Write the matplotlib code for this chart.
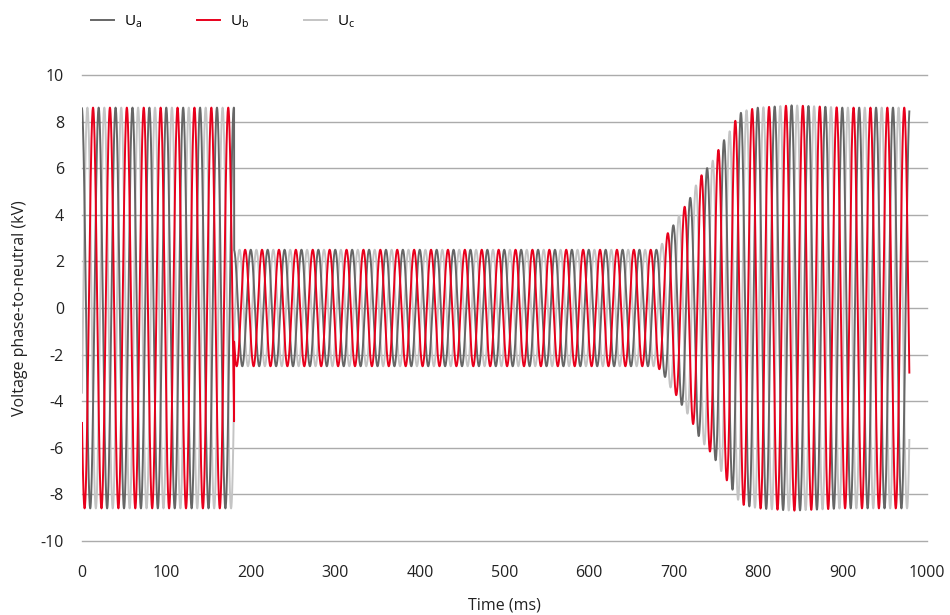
import numpy as np
import matplotlib
matplotlib.use("Agg")
import matplotlib.pyplot as plt

# ---- data ----
freq_hz = 50.0                 # 20 ms period
phase_deg = 5.0                # Ua phase at t = 0
t_start, t_end = 0.0, 979.1    # ms
# amplitude envelope (kV) of the three phases
env_time = [0, 180.0, 180.001, 680, 688, 695, 701, 708, 715, 721, 728, 734,
            741, 748, 754, 761, 768, 775, 781, 788, 800, 841, 900, 979.1]
env_amp = [8.6, 8.6, 2.5, 2.5, 2.82, 3.35, 3.6, 4.06, 4.45, 4.8, 5.39, 5.75,
           6.06, 6.4, 6.85, 7.28, 7.67, 8.17, 8.43, 8.5, 8.6, 8.7, 8.6, 8.6]
phase_shift = {"Ua": 0.0, "Ub": 120.0, "Uc": -120.0}
series = ["Ua", "Ub", "Uc"]
labels = ["U$_{a}$", "U$_{b}$", "U$_{c}$"]
colors = {"Ua": "#666666", "Ub": "#e8001c", "Uc": "#c4c4c4"}

x_ticks = list(range(0, 1001, 100))
y_ticks = list(range(-10, 11, 2))

plt.rcParams["font.family"] = ["Open Sans", "DejaVu Sans"]
plt.rcParams["mathtext.default"] = "regular"
plt.rcParams["axes.unicode_minus"] = False

t = np.linspace(t_start, t_end, 20000)
amp = np.interp(t, env_time, env_amp)
omega = 2 * np.pi * freq_hz / 1000.0

fig = plt.figure(figsize=(9.5, 6.15), dpi=100)
ax = fig.add_axes([82 / 950, 1 - 541 / 615, (927 - 82) / 950, (541 - 75) / 615])

z = {"Uc": 2, "Ua": 3, "Ub": 4}
handles = []
for s, lab in zip(series, labels):
    y = amp * np.cos(omega * t + np.deg2rad(phase_deg + phase_shift[s]))
    h, = ax.plot(t, y, color=colors[s], lw=1.4, zorder=z[s], label=lab)
    handles.append(h)

ax.set_xlim(0, 1000)
ax.set_ylim(-10, 10)
ax.set_xticks(x_ticks)
ax.set_yticks(y_ticks)
ax.yaxis.grid(True, color="#ababab", lw=1.0)
for gl in ax.get_ygridlines():
    gl.set_clip_on(False)
ax.set_axisbelow(True)
for sp in ax.spines.values():
    sp.set_visible(False)
ax.tick_params(axis="both", length=0, labelsize=11.5, colors="#222222")
ax.tick_params(axis="y", pad=13)
ax.tick_params(axis="x", pad=17)
ax.set_xlabel("Time (ms)", fontsize=11.5, color="#222222", labelpad=12)
ax.set_ylabel("Voltage phase-to-neutral (kV)", fontsize=11.5, color="#222222")
ax.yaxis.set_label_coords((28 - 82) / 845, 0.5)

fig.legend(handles=handles, labels=labels, loc="upper left",
           bbox_to_anchor=(0.081, 1.0), ncol=3, frameon=False,
           fontsize=11, handlelength=1.55, handletextpad=0.6,
           columnspacing=3.6)

fig.savefig("out.png", dpi=100)
